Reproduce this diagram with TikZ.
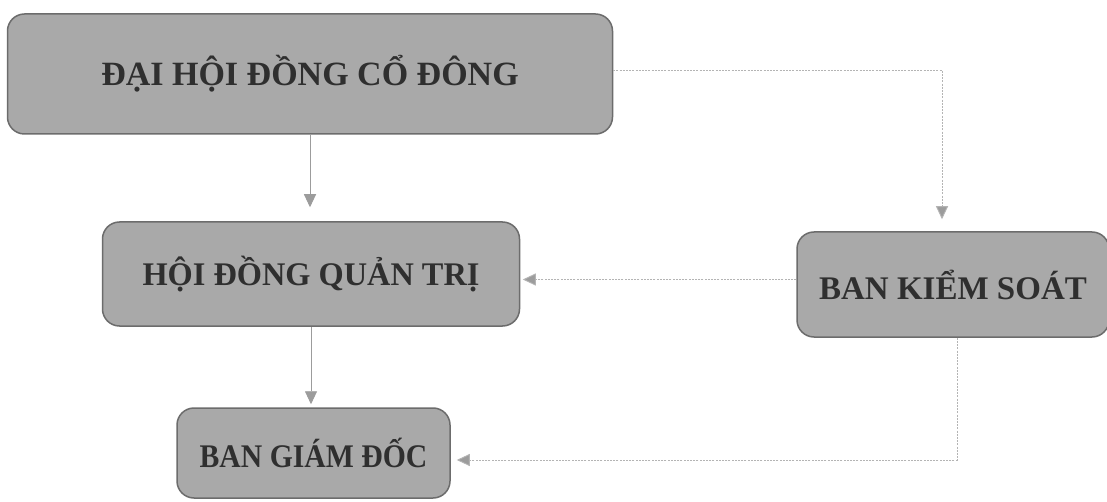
\documentclass[tikz,border=0pt]{standalone}
\usepackage{fontspec}
\setmainfont{Liberation Serif}
\usetikzlibrary{arrows.meta}
\definecolor{boxfill}{HTML}{A9A9A9}
\definecolor{boxline}{HTML}{6C6C6C}
\definecolor{txtcol}{HTML}{2F2F2F}
\definecolor{conncol}{HTML}{9C9C9C}
\definecolor{dotcol}{HTML}{B4B4B4}
\begin{document}
\begin{tikzpicture}[x=1pt,y=-1pt,
  orgbox/.style={draw=boxline, line width=1.5pt, fill=boxfill, rounded corners=17pt,
    font=\bfseries\fontsize{33}{36}\selectfont, text=txtcol, inner sep=0pt, anchor=center},
  solidconn/.style={draw=conncol, line width=0.9pt, -{Triangle[length=13pt,width=12pt,fill=conncol]}},
  dotconn/.style={draw=dotcol, line width=0.9pt, dash pattern=on 2pt off 1.2pt,
    -{Triangle[length=13pt,width=12pt,fill=conncol]}}]
\useasboundingbox (0,0) rectangle (1107,502);
\clip (0,0) rectangle (1107,502);
\fill[white] (0,0) rectangle (1107,502);

\node[orgbox, minimum width=605pt, minimum height=120pt] (dh) at (310,74)
  {\fontsize{34}{36}\selectfont ĐẠI HỘI ĐỒNG CỔ ĐÔNG};
\node[orgbox, minimum width=417pt, minimum height=104pt] (hd) at (311,274)
  {\scalebox{0.98}[1]{HỘI ĐỒNG QUẢN TRỊ}};
\node[orgbox, minimum width=312pt, minimum height=105pt] (bks) at (953,284.5)
  {BAN KIỂM SOÁT};
\node[orgbox, minimum width=273pt, minimum height=90pt] (gd) at (313.5,453)
  {\raisebox{-3pt}{\scalebox{0.9}[1]{BAN GIÁM ĐỐC}}};

\draw[solidconn, shorten >=14pt] (dh.south) -- (dh.south |- hd.north);
\draw[solidconn, shorten >=3pt] (hd.south) -- (hd.south |- gd.north);
\coordinate (bkstop) at ([xshift=-11pt]bks.north);
\draw[dotconn, shorten >=12pt] ([yshift=4pt]dh.east) -| (bkstop);
\coordinate (bksw) at ([yshift=5pt]bks.west);
\draw[dotconn, shorten >=2.5pt] (bksw) -- (bksw -| hd.east);
\coordinate (bkss) at ([xshift=4pt]bks.south);
\draw[dotconn, shorten >=6pt] (bkss) |- ([yshift=-7pt]gd.east);
\end{tikzpicture}
\end{document}
